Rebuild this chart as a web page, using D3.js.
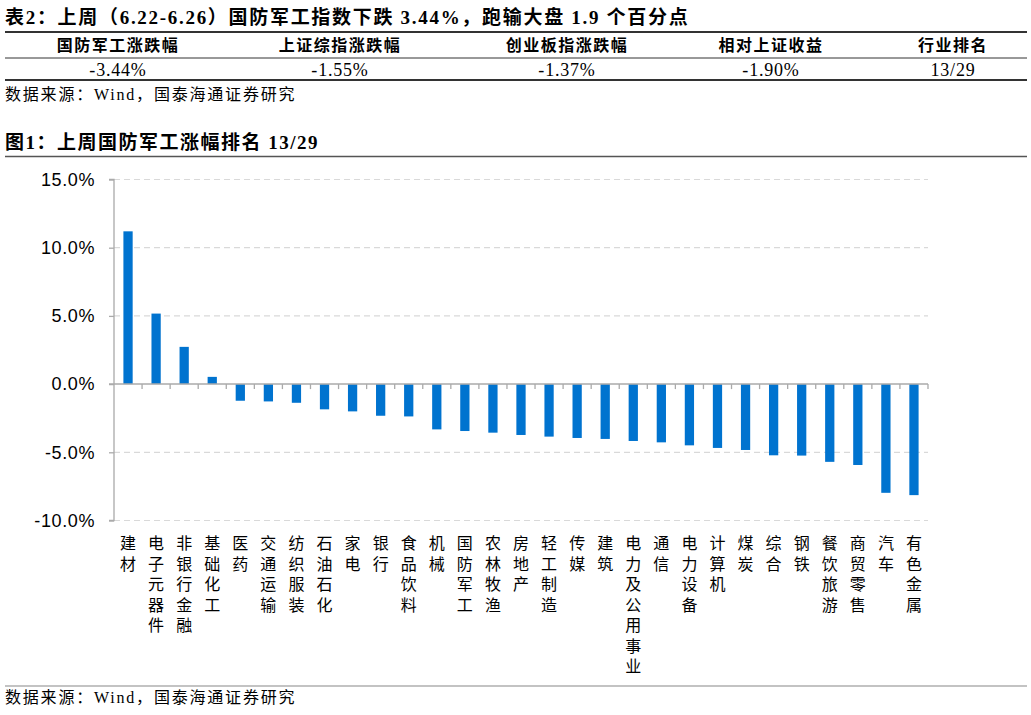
<!DOCTYPE html>
<html>
<head>
<meta charset="utf-8">
<script src="https://cdn.jsdelivr.net/npm/d3@7"></script>
<style>
  body { margin: 0; background: #fff; }
  svg { display: block; }
</style>
</head>
<body>
<div id="chart"></div>
<script>
// table data
var tableTitle = "表2：上周（6.22-6.26）国防军工指数下跌 3.44%，跑输大盘 1.9 个百分点";
var tableHeads = ["国防军工涨跌幅", "上证综指涨跌幅", "创业板指涨跌幅", "相对上证收益", "行业排名"];
var tableValues = ["-3.44%", "-1.55%", "-1.37%", "-1.90%", "13/29"];
var sourceText = "数据来源：Wind，国泰海通证券研究";
var figTitle = "图1：上周国防军工涨幅排名 13/29";

// chart data
var industries = ["建材", "电子元器件", "非银行金融", "基础化工", "医药", "交通运输", "纺织服装", "石油石化",
  "家电", "银行", "食品饮料", "机械", "国防军工", "农林牧渔", "房地产", "轻工制造", "传媒", "建筑",
  "电力及公用事业", "通信", "电力设备", "计算机", "煤炭", "综合", "钢铁", "餐饮旅游", "商贸零售", "汽车", "有色金属"];
var changes = [11.2, 5.17, 2.73, 0.53, -1.22, -1.27, -1.37, -1.85, -2.0, -2.32, -2.37, -3.32, -3.44, -3.56,
  -3.73, -3.85, -3.95, -4.02, -4.17, -4.27, -4.49, -4.68, -4.83, -5.22, -5.24, -5.7, -5.93, -7.97, -8.14];
var yTicks = [-10, -5, 0, 5, 10, 15];

var W = 1031, H = 715;
var svg = d3.select("#chart").append("svg").attr("width", W).attr("height", H);

var serif = "'Liberation Serif', 'Noto Sans CJK SC', serif";
var cjk = "'Noto Sans CJK SC', sans-serif";

// ---- table ----
svg.append("text").attr("x", 5).attr("y", 24)
  .attr("font-family", serif).attr("font-size", 19).attr("font-weight", "bold")
  .attr("letter-spacing", 1.7)
  .text(tableTitle);

svg.append("line").attr("x1", 5).attr("x2", 1027).attr("y1", 32).attr("y2", 32)
  .attr("stroke", "#333").attr("stroke-width", 2);
svg.append("line").attr("x1", 5).attr("x2", 1027).attr("y1", 58).attr("y2", 58)
  .attr("stroke", "#333").attr("stroke-width", 1);
svg.append("line").attr("x1", 5).attr("x2", 1027).attr("y1", 80).attr("y2", 80)
  .attr("stroke", "#333").attr("stroke-width", 2);

var colX = [118, 340, 567, 771, 953];
svg.append("g").selectAll("text").data(tableHeads).enter().append("text")
  .attr("x", (d, i) => colX[i]).attr("y", 51)
  .attr("text-anchor", "middle").attr("font-family", cjk).attr("font-size", 16).attr("font-weight", "bold")
  .attr("letter-spacing", 1.5)
  .text(d => d);
svg.append("g").selectAll("text").data(tableValues).enter().append("text")
  .attr("x", (d, i) => colX[i]).attr("y", 76)
  .attr("text-anchor", "middle").attr("font-family", serif).attr("font-size", 18)
  .attr("letter-spacing", 0.8)
  .text(d => d);

svg.append("text").attr("x", 5).attr("y", 100)
  .attr("font-family", serif).attr("font-size", 16).attr("letter-spacing", 1.8).text(sourceText);

// ---- figure title ----
svg.append("text").attr("x", 5).attr("y", 149)
  .attr("font-family", serif).attr("font-size", 19).attr("font-weight", "bold")
  .attr("letter-spacing", 1.5)
  .text(figTitle);
svg.append("line").attr("x1", 5).attr("x2", 1027).attr("y1", 156.5).attr("y2", 156.5)
  .attr("stroke", "#555").attr("stroke-width", 1.5);

// ---- bar chart ----
var plotL = 114, plotR = 928, plotT = 179.5, plotB = 520.5;
var x = d3.scaleBand().domain(industries).range([plotL, plotR]).padding(0);
var y = d3.scaleLinear().domain([-10, 15]).range([plotB, plotT]);

// grid
svg.append("g").selectAll("line").data(yTicks.filter(d => d !== 0)).enter().append("line")
  .attr("x1", plotL).attr("x2", plotR)
  .attr("y1", d => y(d)).attr("y2", d => y(d))
  .attr("stroke", "#d9d9d9").attr("stroke-width", 1.2).attr("stroke-dasharray", "6,4");

// y axis
var yAxis = svg.append("g").attr("transform", `translate(${plotL},0)`)
  .call(d3.axisLeft(y).tickValues(yTicks).tickSize(5).tickPadding(14).tickFormat(d => d.toFixed(1) + "%"));
yAxis.select(".domain").attr("stroke", "#aaa").attr("stroke-width", 1.3).attr("d", `M-5,${plotT}H0V${plotB}H-5`);
yAxis.selectAll(".tick line").attr("stroke", "#aaa").attr("stroke-width", 1.3);
yAxis.selectAll(".tick text").attr("font-family", "'Liberation Sans', Arial, sans-serif")
  .attr("font-size", 18).attr("letter-spacing", 0.6).attr("fill", "#000");

// bars
var bw = x.bandwidth() * 0.33;
svg.append("g").selectAll("rect").data(changes).enter().append("rect")
  .attr("x", (d, i) => x(industries[i]) + x.bandwidth() / 2 - bw / 2)
  .attr("y", d => y(Math.max(0, d)))
  .attr("width", bw)
  .attr("height", d => Math.abs(y(d) - y(0)))
  .attr("fill", "#0073cf");

// x axis at zero
var zeroY = y(0);
svg.append("line").attr("x1", plotL - 5).attr("x2", plotR).attr("y1", zeroY).attr("y2", zeroY)
  .attr("stroke", "#aaa").attr("stroke-width", 1.5);
var bounds = industries.map(d => x(d)).concat([plotR]).slice(1);
svg.append("g").selectAll("line").data(bounds).enter().append("line")
  .attr("x1", d => d).attr("x2", d => d).attr("y1", zeroY).attr("y2", zeroY + 5)
  .attr("stroke", "#aaa").attr("stroke-width", 1.3);

// vertical category labels, one text per character
svg.append("g").selectAll("g").data(industries).enter().append("g")
  .each(function(d) {
    var cx = x(d) + x.bandwidth() / 2;
    d3.select(this).selectAll("text").data(Array.from(d)).enter().append("text")
      .attr("x", cx).attr("y", (ch, k) => 542 + k * 20.5)
      .attr("dominant-baseline", "central")
      .attr("font-family", cjk).attr("font-size", 16).attr("text-anchor", "middle").attr("fill", "#000")
      .text(ch => ch);
  });

// bottom
svg.append("line").attr("x1", 5).attr("x2", 1027).attr("y1", 686).attr("y2", 686)
  .attr("stroke", "#888").attr("stroke-width", 1.2);
svg.append("text").attr("x", 5).attr("y", 703)
  .attr("font-family", serif).attr("font-size", 16).attr("letter-spacing", 1.8).text(sourceText);
</script>
</body>
</html>
